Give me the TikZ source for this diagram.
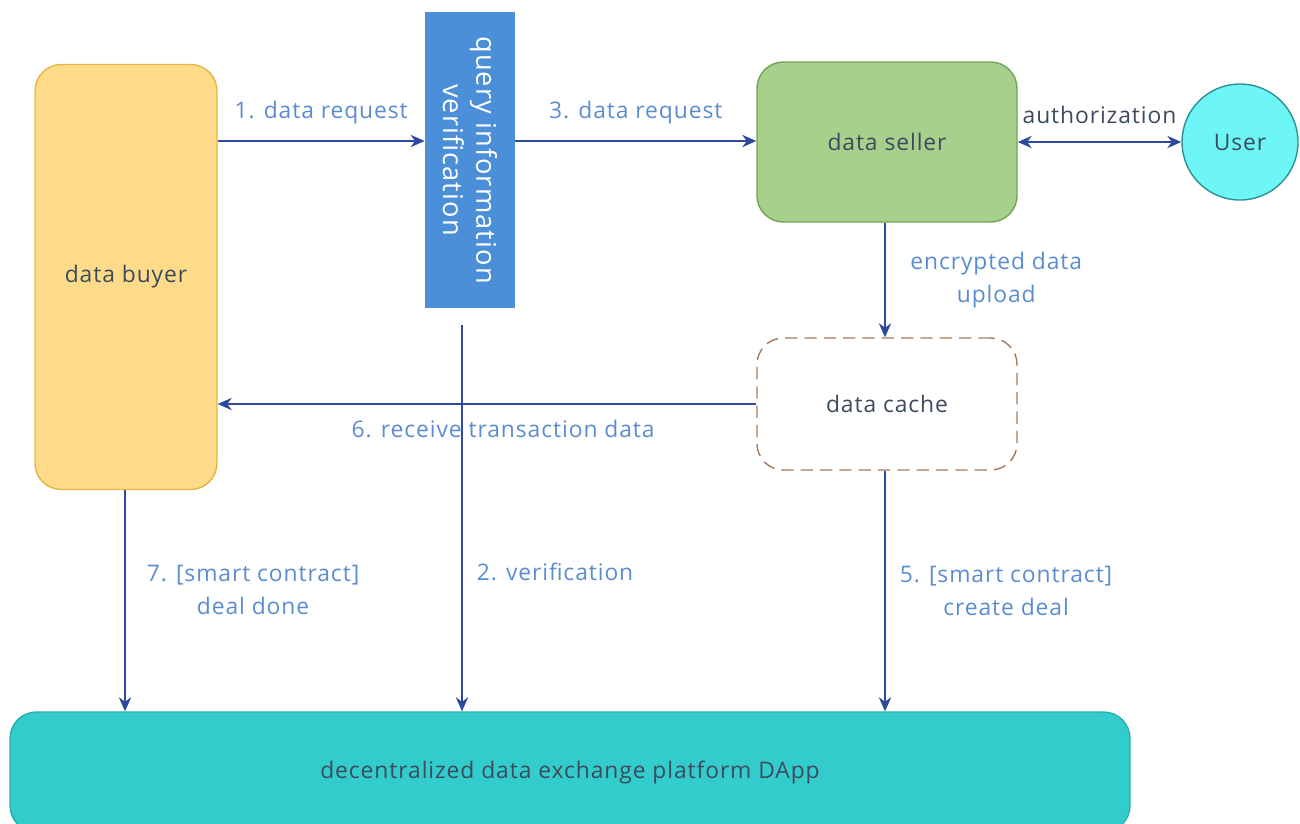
\documentclass[tikz,border=0pt]{standalone}
\usepackage{fontspec}
\setmainfont{Open Sans}[LetterSpace=4]
\usetikzlibrary{arrows.meta}
\definecolor{buyerfill}{HTML}{FDDB88}
\definecolor{buyerline}{HTML}{E8B545}
\definecolor{queryfill}{HTML}{4A8FD8}
\definecolor{sellerfill}{HTML}{A8D08D}
\definecolor{sellerline}{HTML}{76A258}
\definecolor{userfill}{HTML}{6EF6F6}
\definecolor{userline}{HTML}{2E9090}
\definecolor{cacheline}{HTML}{A67B5B}
\definecolor{dappfill}{HTML}{33CCCC}
\definecolor{dappline}{HTML}{2AAFAF}
\definecolor{flow}{HTML}{2E4A9E}
\definecolor{flowtext}{HTML}{5B8CD0}
\definecolor{boxtext}{HTML}{3D4B5C}
\begin{document}
\begin{tikzpicture}[
      x=0.02cm, y=-0.02cm,
      every node/.style={font=\fontsize{13}{19}\selectfont, text=boxtext, inner sep=0pt},
      party/.style={draw, rounded corners=15, line width=0.8pt},
      msg/.style={text=flowtext, align=center},
      flowline/.style={draw=flow, line width=0.9pt, -{Stealth[length=8pt,width=7pt]}}
    ]
      \useasboundingbox (0,0) rectangle (1300,823);

      % The boxes of the exchange
      \node[party, fill=buyerfill, draw=buyerline, minimum width=182*0.02cm, minimum height=425*0.02cm]
        (buyer) at (126,277) {data buyer};
      \node[fill=queryfill, minimum width=90*0.02cm, minimum height=296*0.02cm]
        (query) at (470,160) {};
      \node[text=white, rotate=-90, align=center, font=\fontsize{15.5}{19}\selectfont]
        at (query.center) {query information\\verification};
      \node[party, fill=sellerfill, draw=sellerline, minimum width=260*0.02cm, minimum height=160*0.02cm]
        (seller) at (887,142) {data seller};
      \node[circle, draw=userline, fill=userfill, line width=0.8pt, minimum size=116*0.02cm]
        (user) at (1240,142) {User};
      % The cache is only a temporary store, so draw it dashed
      \node[party, draw=cacheline, fill=white, dashed, dash pattern=on 7pt off 4pt, minimum width=260*0.02cm, minimum height=132*0.02cm]
        (cache) at (887,404) {data cache};
      \node[party, fill=dappfill, draw=dappline, minimum width=1120*0.02cm, minimum height=120*0.02cm]
        (dapp) at (570,772) {decentralized data exchange platform DApp};

      % Free ends of the down arrows
      \coordinate (vtop) at (462,325);
      \coordinate (sdown) at (885,0);
      \coordinate (bdown) at (125,0);

      % Messages between the parties
      \draw[flowline] (buyer.east |- 0,141) -- (query.west |- 0,141)
        node[msg, midway, above=9pt] {1. data request};
      \draw[flowline] (query.east |- 0,141) -- (seller.west |- 0,141)
        node[msg, midway, above=9pt] {3. data request};
      \draw[flowline, {Stealth[length=8pt,width=7pt]}-{Stealth[length=8pt,width=7pt]}] (seller.east) -- (user.west)
        node[midway, above=10pt] {authorization};
      \draw[flowline] (sdown |- seller.south) -- (sdown |- cache.north)
        node[msg, midway, right=14pt] {encrypted data\\upload};
      \draw[flowline] (cache.west) -- (buyer.east |- cache.west)
        node[msg, pos=0.47, below=9pt] {6. receive transaction data};
      \draw[flowline] (bdown |- buyer.south) -- (bdown |- dapp.north)
        node[msg, pos=0.45, right=12pt] {7. [smart contract]\\deal done};
      \draw[flowline] (vtop) -- (vtop |- dapp.north)
        node[msg, pos=0.64, right=8pt] {2. verification};
      \draw[flowline] (sdown |- cache.south) -- (sdown |- dapp.north)
        node[msg, pos=0.5, right=8pt] {5. [smart contract]\\create deal};
    \end{tikzpicture}
\end{document}
